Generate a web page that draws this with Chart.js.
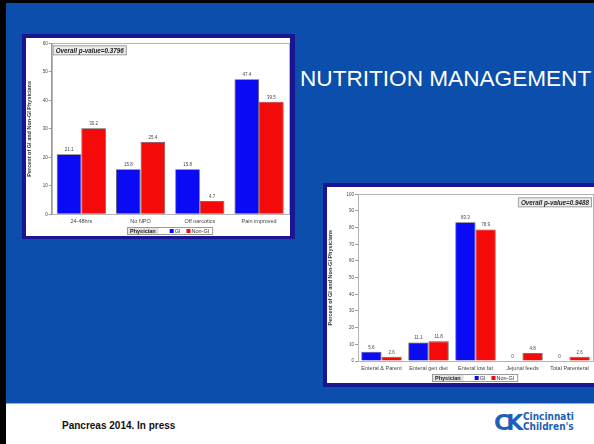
<!DOCTYPE html>
<html>
<head>
<meta charset="utf-8">
<script src="https://cdn.jsdelivr.net/npm/chart.js@4.4.1/dist/chart.umd.min.js"></script>
<style>
  html, body { margin: 0; padding: 0; }
  body { width: 594px; height: 444px; position: relative; overflow: hidden; background: #fff; font-family: 'Liberation Sans', Arial, sans-serif; }
  .edge-left { position: absolute; left: 0; top: 0; width: 6px; height: 444px; background: #000; }
  .edge-top { position: absolute; left: 0; top: 0; width: 594px; height: 3px; background: #000; }
  .slide { position: absolute; left: 6px; top: 3px; width: 588px; height: 400px; background: #0b4eab; border-bottom: 1px solid #8fb0d8; }
  .frame { position: absolute; background: #1a1590; }
  .frame canvas { position: absolute; background: #fff; }
  .title { position: absolute; left: 300px; top: 66px; color: #fff; font-size: 22.6px; white-space: nowrap; }
  .cite { position: absolute; left: 62px; top: 420px; font-size: 10px; font-weight: bold; color: #111; }
  .logo { position: absolute; left: 494px; top: 410px; color: #1f5fb8; font-weight: bold; white-space: nowrap; }
  .logo .mark { position: absolute; left: 0; top: 0; font-size: 22px; letter-spacing: -4px; font-family: 'DejaVu Sans', sans-serif; }
  .logo .words { position: absolute; left: 29px; top: 2px; font-size: 10px; line-height: 10px; font-family: 'DejaVu Sans Condensed', 'DejaVu Sans', sans-serif; }
</style>
</head>
<body>
<div class="edge-left"></div>
<div class="edge-top"></div>
<div class="slide"></div>

<div class="frame" style="left:22px; top:34px; width:273px; height:205px;">
  <canvas id="painChart" width="264" height="198" style="left:4px; top:4px;"></canvas>
</div>

<div class="title">NUTRITION MANAGEMENT</div>

<div class="frame" style="left:323px; top:183px; width:280px; height:204px;">
  <canvas id="nutritionChart" width="267" height="196" style="left:4px; top:4px;"></canvas>
</div>

<div class="cite">Pancreas 2014. In press</div>
<div class="logo"><span class="mark">CK</span><span class="words">Cincinnati<br>Children's</span></div>

<script>
// Chart data ------------------------------------------------------------------

const painCategories = ['24-48hrs', 'No NPO', 'Off narcotics', 'Pain improved'];
const painGI = [21.1, 15.8, 15.8, 47.4];
const painNonGI = [30.2, 25.4, 4.7, 39.5];
const painPValue = 'Overall p-value=0.3796';

const nutritionCategories = ['Enteral & Parent', 'Enteral gen diet', 'Enteral low fat', 'Jejunal feeds', 'Total Parenteral'];
const nutritionGI = [5.6, 11.1, 83.3, 0, 0];
const nutritionNonGI = [2.6, 11.8, 78.9, 4.8, 2.6];
const nutritionPValue = 'Overall p-value=0.9488';

const seriesNames = ['GI', 'Non-GI'];
const legendTitle = 'Physician';
const yTitle = 'Percent of GI and Non-GI Physicians';

const FONT = "'Liberation Sans', Arial, sans-serif";
const COLORS = {
	gi: '#0a0af5',
	nonGi: '#f50a0a',
	barBorder: 'rgba(40,20,20,0.75)',
	axis: '#9a9a9a',
	text: '#444',
	frame: '#b4b4b4',
	boxFill: '#ececec'
};

// Plugins ---------------------------------------------------------------------

// thin gray box round the plot area
const plotFrame = {
	id: 'plotFrame',
	beforeDatasetsDraw(chart) {
		const a = chart.chartArea;
		const ctx = chart.ctx;
		ctx.save();
		ctx.strokeStyle = COLORS.frame;
		ctx.lineWidth = 1;
		ctx.strokeRect(Math.round(a.left) + 0.5, Math.round(a.top) + 0.5, Math.round(a.right - a.left), Math.round(a.bottom - a.top));
		ctx.restore();
	}
};

// value labels above each bar
const barValues = {
	id: 'barValues',
	afterDatasetsDraw(chart) {
		const ctx = chart.ctx;
		ctx.save();
		ctx.font = '4.5px ' + FONT;
		ctx.fillStyle = COLORS.text;
		ctx.textAlign = 'center';
		ctx.textBaseline = 'bottom';
		chart.data.datasets.forEach((ds, i) => {
			chart.getDatasetMeta(i).data.forEach((bar, j) => {
				ctx.fillText(String(ds.data[j]), bar.x, bar.y - 2);
			});
		});
		ctx.restore();
	}
};

// p-value note and "Physician" legend box
const notes = {
	id: 'notes',
	afterDraw(chart, args, opts) {
		const ctx = chart.ctx;
		const a = chart.chartArea;
		ctx.save();

		// p-value box
		ctx.font = 'italic bold 6.3px ' + FONT;
		const tw = ctx.measureText(opts.pValue).width;
		const bw = tw + 6, bh = 10;
		const bx = opts.pRight ? a.right - bw - 1 : a.left + 1;
		const by = a.top + opts.pTop;
		ctx.fillStyle = COLORS.boxFill;
		ctx.fillRect(bx, by, bw, bh);
		ctx.strokeStyle = '#a0a0a0';
		ctx.lineWidth = 1;
		ctx.strokeRect(bx + 0.5, by + 0.5, bw - 1, bh - 1);
		ctx.fillStyle = '#222';
		ctx.textBaseline = 'middle';
		ctx.textAlign = 'left';
		ctx.fillText(opts.pValue, bx + 3, by + bh / 2 + 0.5);

		// legend
		ctx.font = 'bold 5.5px ' + FONT;
		const tW = ctx.measureText(legendTitle).width;
		ctx.font = '5.5px ' + FONT;
		const w1 = ctx.measureText(seriesNames[0]).width;
		const w2 = ctx.measureText(seriesNames[1]).width;
		const lw = 3 + tW + 4 + 10 + 5 + w1 + 6 + 5 + w2 + 4;
		const lh = 8;
		const lx = Math.round((a.left + a.right) / 2 - lw / 2);
		const ly = Math.round(chart.height - lh - 1);
		ctx.fillStyle = '#fff';
		ctx.fillRect(lx, ly, lw, lh);
		ctx.strokeStyle = '#9a9a9a';
		ctx.strokeRect(lx + 0.5, ly + 0.5, lw - 1, lh - 1);
		ctx.fillStyle = '#e2e2e2';
		ctx.fillRect(lx + 1, ly + 1, tW + 5, lh - 2);
		ctx.fillStyle = '#222';
		ctx.font = 'bold 5.5px ' + FONT;
		let x = lx + 3;
		const cy = ly + lh / 2 + 0.5;
		ctx.fillText(legendTitle, x, cy);
		x += tW + 4 + 10;
		ctx.font = '5.5px ' + FONT;
		ctx.fillStyle = COLORS.gi;
		ctx.fillRect(x, cy - 2.5, 4, 4);
		ctx.fillStyle = '#333';
		ctx.fillText(seriesNames[0], x + 5, cy);
		x += 5 + w1 + 6;
		ctx.fillStyle = COLORS.nonGi;
		ctx.fillRect(x, cy - 2.5, 4, 4);
		ctx.fillStyle = '#333';
		ctx.fillText(seriesNames[1], x + 5, cy);
		ctx.restore();
	}
};

// Chart builder ---------------------------------------------------------------

function makeChart(id, cfg) {
	const ctx = document.getElementById(id).getContext('2d');
	return new Chart(ctx, {
		type: 'bar',
		data: {
			labels: cfg.labels,
			datasets: [
				{ label: seriesNames[0], data: cfg.gi, backgroundColor: COLORS.gi, borderColor: COLORS.barBorder, borderWidth: 0.8 },
				{ label: seriesNames[1], data: cfg.nonGi, backgroundColor: COLORS.nonGi, borderColor: COLORS.barBorder, borderWidth: 0.8 }
			]
		},
		options: {
			responsive: false,
			animation: false,
			devicePixelRatio: 1,
			layout: { padding: cfg.padding },
			datasets: { bar: { categoryPercentage: cfg.catPct, barPercentage: 1.0 } },
			scales: {
				x: {
					grid: { display: false, drawTicks: false, tickLength: 0 },
					border: { display: false },
					ticks: { color: COLORS.text, font: { size: 5.5, family: FONT }, padding: 4, maxRotation: 0, autoSkip: false },
					afterFit: (s) => { s.height = cfg.xHeight; }
				},
				y: {
					min: 0,
					max: cfg.max,
					grid: { drawOnChartArea: false, drawTicks: true, tickLength: 3, color: COLORS.axis },
					border: { display: true, color: COLORS.axis },
					ticks: { stepSize: 10, color: COLORS.text, font: { size: 4.5, family: FONT }, padding: 1 },
					title: { display: true, text: yTitle, color: '#333', font: { size: 5.5, weight: 'bold', family: FONT }, padding: 0 },
					afterFit: (s) => { s.width = cfg.yWidth; }
				}
			},
			plugins: {
				legend: { display: false },
				tooltip: { enabled: false },
				notes: { pValue: cfg.pValue, pRight: cfg.pRight, pTop: cfg.pTop }
			}
		},
		plugins: [plotFrame, barValues, notes]
	});
}

makeChart('painChart', {
	labels: painCategories,
	gi: painGI,
	nonGi: painNonGI,
	max: 60,
	pValue: painPValue,
	pRight: false,
	pTop: 2,
	catPct: 0.83,
	yWidth: 25.7,
	xHeight: 21.7,
	padding: { top: 5.3, right: 1.3, left: 0, bottom: 0 }
});

makeChart('nutritionChart', {
	labels: nutritionCategories,
	gi: nutritionGI,
	nonGi: nutritionNonGI,
	max: 100,
	pValue: nutritionPValue,
	pRight: true,
	pTop: 3,
	catPct: 0.86,
	yWidth: 31,
	xHeight: 22,
	padding: { top: 7.3, right: 1, left: 0, bottom: 0 }
});
</script>
</body>
</html>
